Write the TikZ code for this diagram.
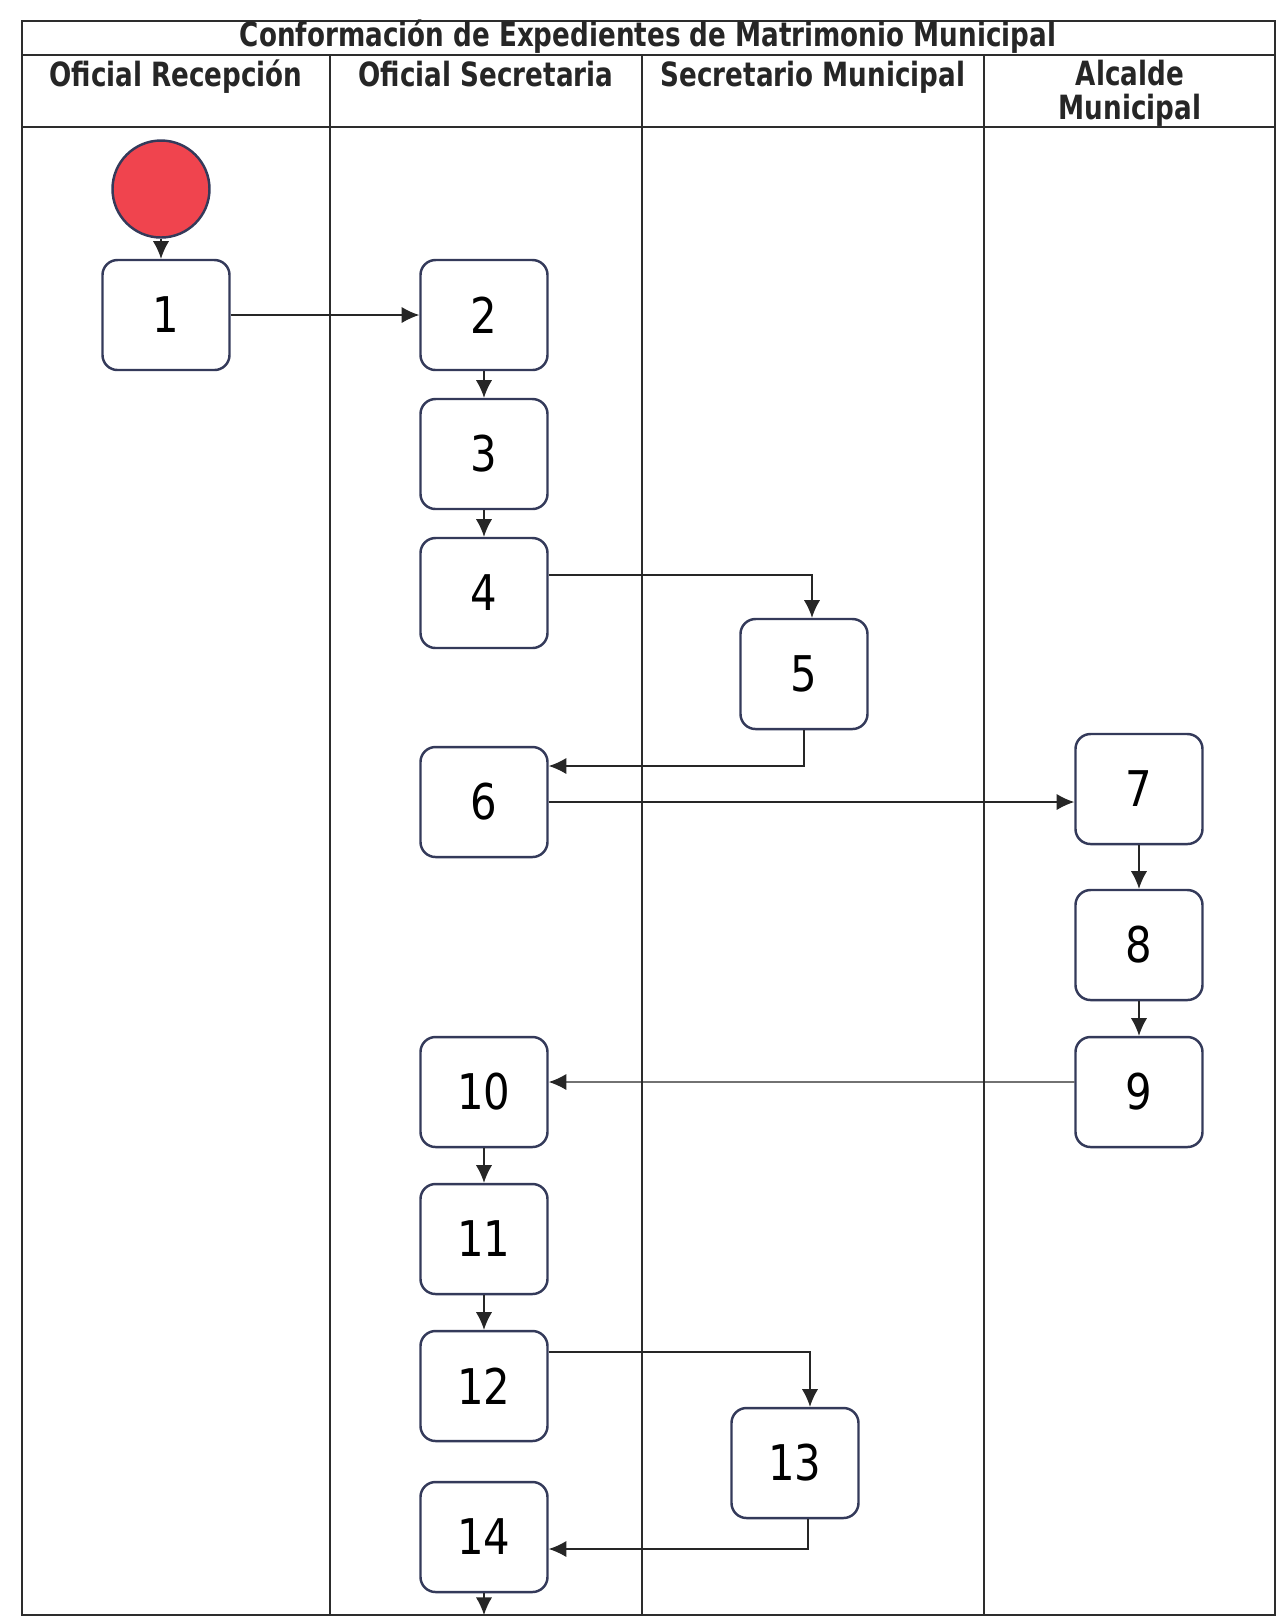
\documentclass[tikz,border=0pt]{standalone}
\usepackage{fontspec}
\setmainfont{DejaVu Sans}
\newfontfamily\headfont{DejaVu Sans}[FakeStretch=0.785]
\newfontfamily\numfont{DejaVu Sans}[FakeStretch=0.85]
\usetikzlibrary{arrows.meta}
\definecolor{boxBlue}{RGB}{52,58,90}
\definecolor{lineGray}{RGB}{45,45,45}
\definecolor{startRed}{RGB}{240,68,78}
\tikzstyle{stepBox} = [shape=rectangle, draw=boxBlue, line width=0.7pt,
	rounded corners=0.15cm, fill=white, minimum width=1.27cm, minimum height=1.10cm,
	font=\numfont\fontsize{14}{14}\selectfont]
\tikzstyle{startDot} = [shape=circle, draw=boxBlue, line width=0.7pt,
	fill=startRed, minimum size=0.97cm, inner sep=0pt]
\tikzstyle{laneText} = [font=\headfont\bfseries\fontsize{9.5}{9.4}\selectfont,
	align=center, text=black!85]
\tikzstyle{laneLine} = [draw=lineGray, line width=0.6pt]
\tikzstyle{flowArrow} = [draw=black!85, line width=0.4pt, -{Latex[length=5pt, width=4.6pt]}]

\begin{document}
\begin{tikzpicture}[node distance=1.47cm]
  \useasboundingbox (0,0) rectangle (12.77,-16.18);
  % swimlanes
  \draw [laneLine] (0.22,-0.21) rectangle (12.75,-16.15);
  \draw [laneLine] (0.22,-0.55) -- (12.75,-0.55);
  \draw [laneLine] (0.22,-1.27) -- (12.75,-1.27);
  \foreach \x in {3.30, 6.42, 9.84}
    \draw [laneLine] (\x,-0.55) -- (\x,-16.15);

  \node (TITLE) [laneText] at (6.48,-0.37) {Conformación de Expedientes de Matrimonio Municipal};
  \node (RECEP) [laneText, anchor=base] at (1.76,-0.86) {Oficial Recepción};
  \node (OFSEC) [laneText, anchor=base] at (4.86,-0.86) {Oficial Secretaria};
  \node (SEMUN) [laneText, anchor=base] at (8.13,-0.86) {Secretario Municipal};
  \node (ALCAL) [laneText, anchor=base] at (11.30,-1.19) {Alcalde\\Municipal};

  \node (START) [startDot] at (1.61,-1.89) {};
  \node (N1) [stepBox] at (1.66,-3.15) {1};
  \node (N2) [stepBox] at (4.84,-3.15) {2};
  \node (N3) [stepBox, below of=N2, yshift=0.08cm] {3};
  \node (N4) [stepBox, below of=N3, yshift=0.08cm] {4};
  \node (N5) [stepBox] at (8.04,-6.74) {5};
  \node (N6) [stepBox] at (4.84,-8.02) {6};
  \node (N7) [stepBox] at (11.39,-7.89) {7};
  \node (N8) [stepBox, below of=N7, yshift=-0.09cm] {8};
  \node (N9) [stepBox, below of=N8] {9};
  \node (N10) [stepBox] at (4.84,-10.92) {10};
  \node (N11) [stepBox, below of=N10] {11};
  \node (N12) [stepBox, below of=N11] {12};
  \node (N13) [stepBox] at (7.95,-14.63) {13};
  \node (N14) [stepBox] at (4.84,-15.37) {14};
  \coordinate (END) at (4.84,-16.15);

  \draw [flowArrow] (START) -- (START |- N1.north);
  \draw [flowArrow] (N1.east) -- (N2.west);
  \draw [flowArrow] (N2) -- (N3);
  \draw [flowArrow] (N3) -- (N4);
  \draw [flowArrow] ([yshift=0.18cm]N4.east) -| ([xshift=0.08cm]N5.north);
  \draw [flowArrow] (N5.south) |- ([yshift=0.36cm]N6.east);
  \draw [flowArrow] (N6.east) -- (N6.east -| N7.west);
  \draw [flowArrow] (N7) -- (N8);
  \draw [flowArrow] (N8) -- (N9);
  \draw [flowArrow] ([yshift=0.1cm]N9.west) -- ([yshift=0.1cm]N10.east);
  \draw [flowArrow] (N10) -- (N11);
  \draw [flowArrow] (N11) -- (N12);
  \draw [flowArrow] ([yshift=0.34cm]N12.east) -| ([xshift=0.15cm]N13.north);
  \draw [flowArrow] ([xshift=0.13cm]N13.south) |- ([yshift=-0.12cm]N14.east);
  \draw [flowArrow] (N14) -- (END);

\end{tikzpicture}
\end{document}
